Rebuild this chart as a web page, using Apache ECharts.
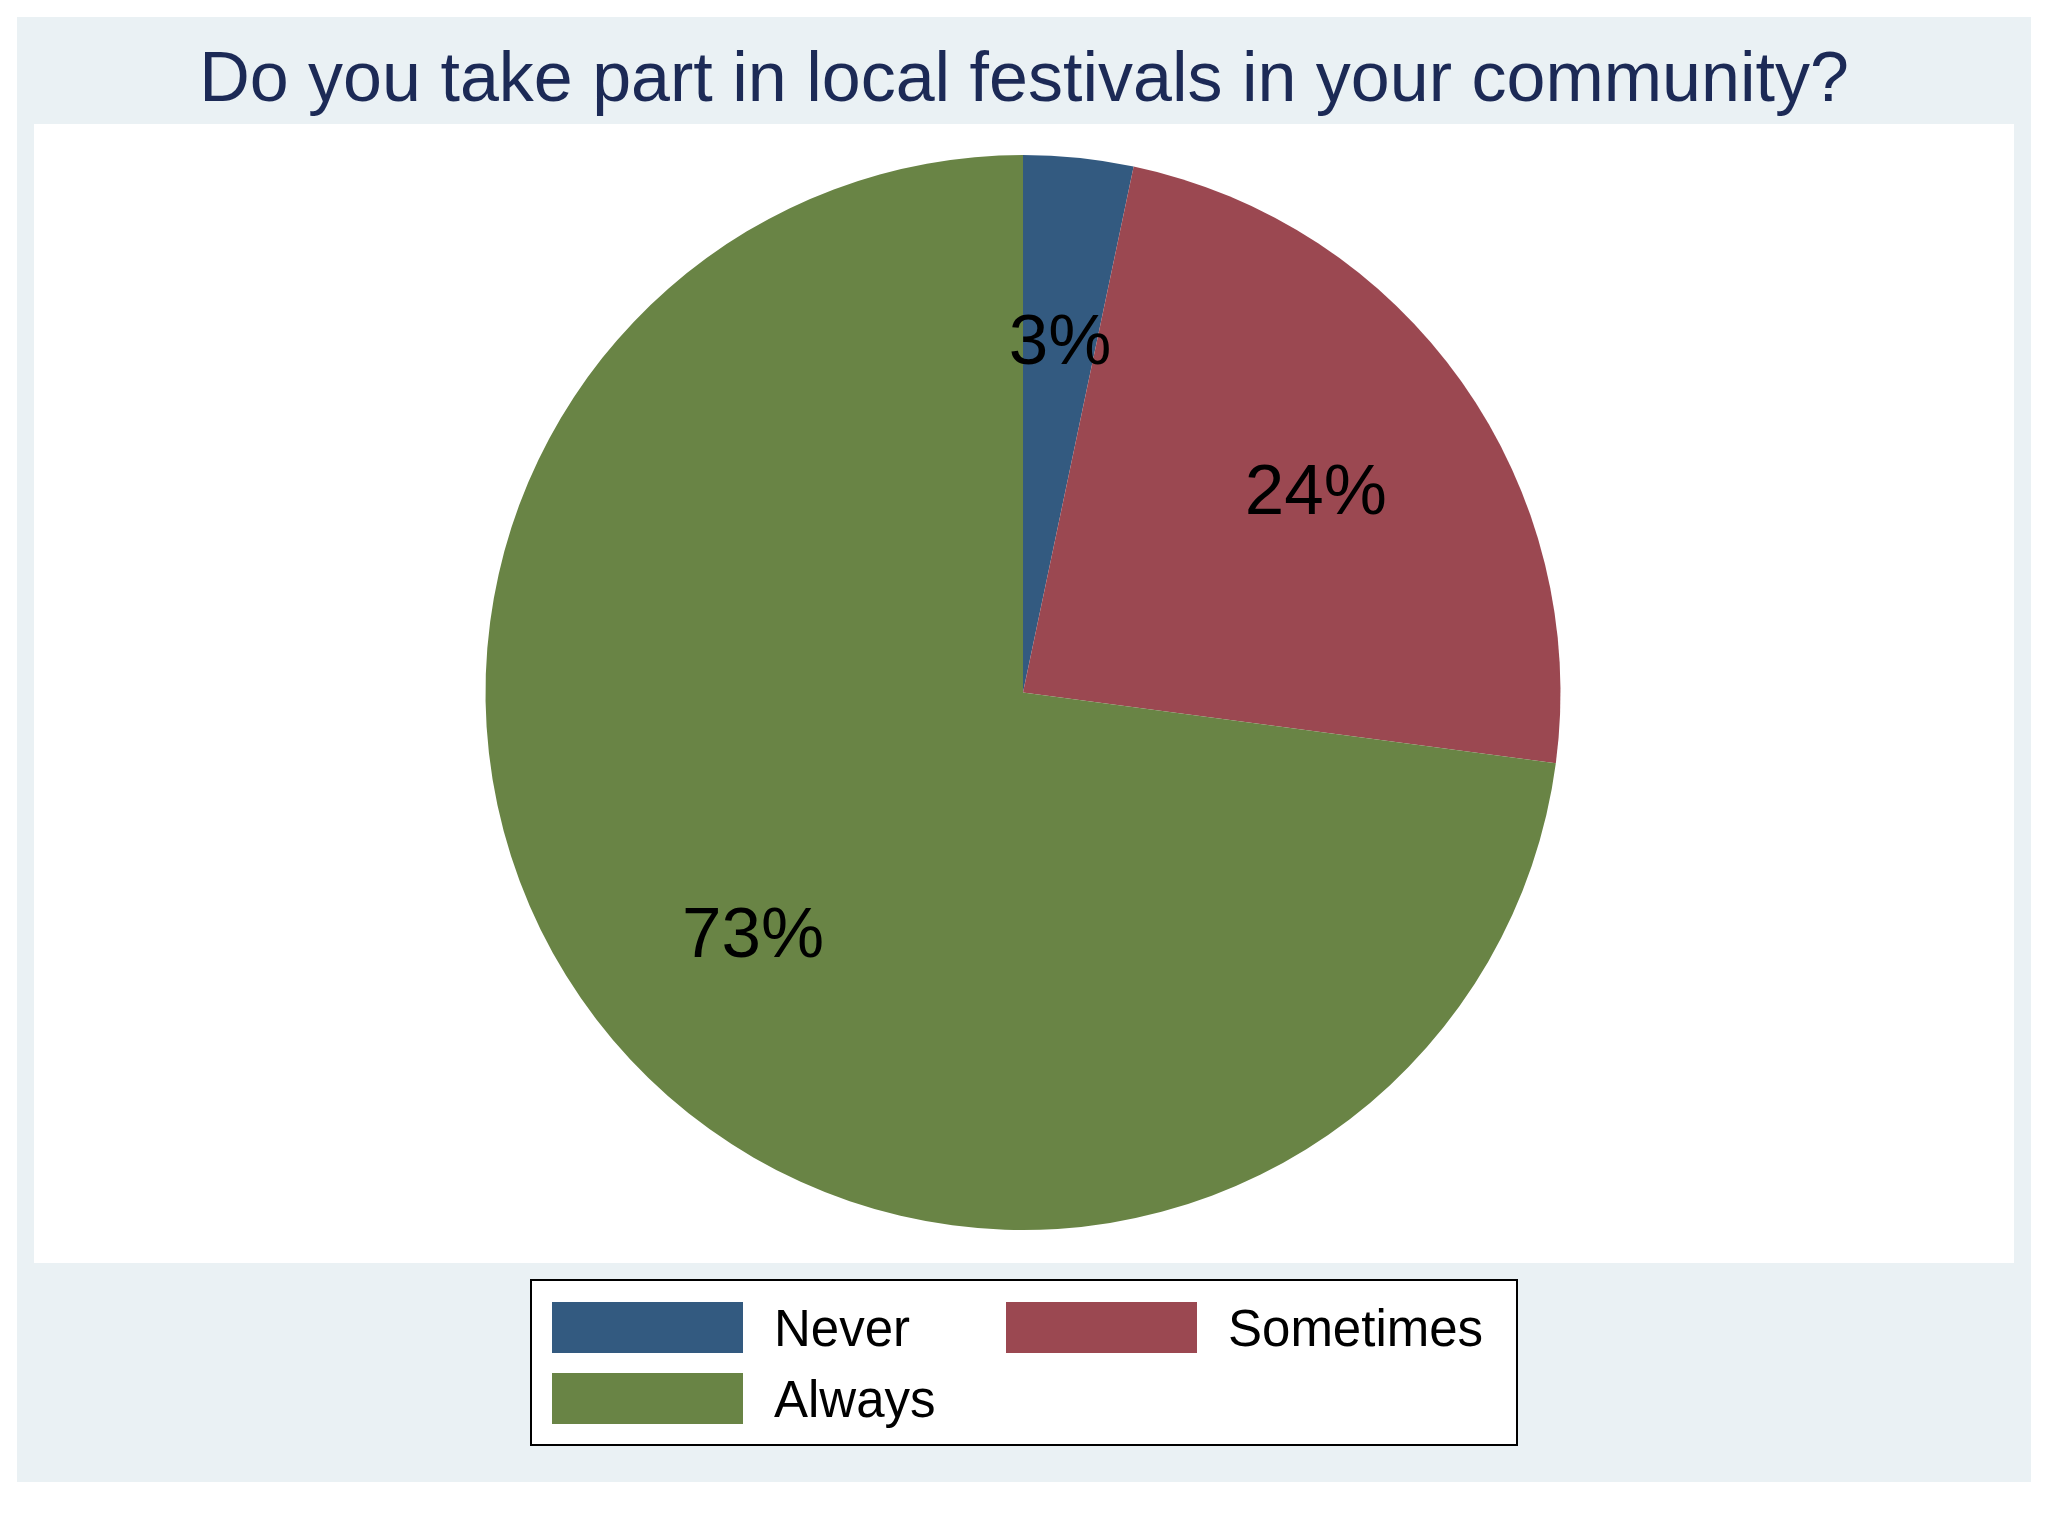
<!DOCTYPE html>
<html>
<head>
<meta charset="utf-8">
<style>
  html, body { margin: 0; padding: 0; background: #ffffff; }
  #chart { width: 2048px; height: 1536px; }
</style>
<script src="https://cdn.jsdelivr.net/npm/echarts@6/dist/echarts.min.js"></script>
</head>
<body>
<div id="chart"></div>
<script>
// ---- data ----
const titleText = 'Do you take part in local festivals in your community?';
const categories = ['Never', 'Sometimes', 'Always'];
const shares = [3.3, 23.8, 72.9];           // percent of respondents
const colors = ['#335a80', '#9b4851', '#698445'];

const FONT = '"Liberation Sans", Arial, Helvetica, sans-serif';

const chart = echarts.init(document.getElementById('chart'), null, { renderer: 'canvas' });

const pieData = categories.map((name, i) => ({
  name: name,
  value: shares[i],
  itemStyle: { color: colors[i] }
}));
const labelData = categories.map((name, i) => ({ name: name, value: shares[i] }));

const legendItem = (i) => ({ name: categories[i], itemStyle: { color: colors[i] } });
const legendCommon = {
  orient: 'vertical',
  itemWidth: 191,
  itemHeight: 51,
  itemGap: 16,
  icon: 'rect',
  padding: 0,
  selectedMode: false,
  formatter: '{t|{name}}',
  textStyle: {
    fontFamily: FONT,
    fontSize: 51,
    color: '#000000',
    rich: {
      t: {
        fontFamily: FONT,
        fontSize: 51,
        color: '#000000',
        padding: [8, 0, 0, 26]
      }
    }
  }
};

chart.setOption({
  backgroundColor: '#ffffff',
  animation: false,
  graphic: [
    { type: 'rect', z: -10, shape: { x: 17, y: 17, width: 2014, height: 1465 }, style: { fill: '#eaf1f4' } },
    { type: 'rect', z: -9, shape: { x: 34, y: 124, width: 1980, height: 1139 }, style: { fill: '#ffffff' } },
    { type: 'rect', z: -8, shape: { x: 531, y: 1280, width: 986, height: 165 }, style: { fill: '#ffffff', stroke: '#000000', lineWidth: 2 } }
  ],
  title: {
    text: titleText,
    left: 'center',
    top: 42,
    textStyle: {
      fontFamily: FONT,
      fontSize: 70,
      fontWeight: 'normal',
      color: '#1c2a56'
    }
  },
  legend: [
    Object.assign({}, legendCommon, { left: 552, top: 1302, data: [legendItem(0), legendItem(2)] }),
    Object.assign({}, legendCommon, { left: 1006, top: 1302, data: [legendItem(1)] })
  ],
  series: [
    {
      type: 'pie',
      center: [1023, 692.5],
      radius: [0, 537.5],
      startAngle: 90,
      clockwise: true,
      silent: true,
      label: { show: false },
      labelLine: { show: false },
      itemStyle: { borderWidth: 0 },
      emphasis: { disabled: true },
      data: pieData
    },
    {
      type: 'pie',
      center: [1023, 692.5],
      radius: [174, 537.5],
      startAngle: 90,
      clockwise: true,
      silent: true,
      itemStyle: { color: 'rgba(0,0,0,0)', borderWidth: 0 },
      emphasis: { disabled: true },
      labelLine: { show: false },
      label: {
        show: true,
        position: 'inside',
        formatter: (p) => Math.round(p.value) + '%',
        fontFamily: FONT,
        fontSize: 71,
        color: '#000000',
        offset: [0, 9]
      },
      data: labelData
    }
  ]
});
</script>
</body>
</html>
